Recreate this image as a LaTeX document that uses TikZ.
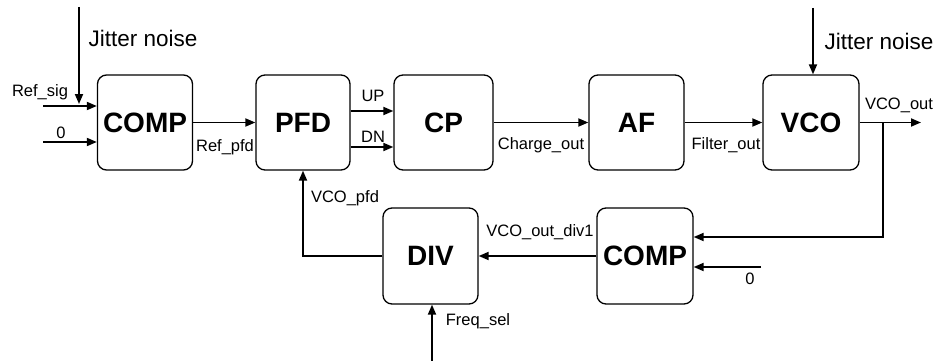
\documentclass[tikz,border=0pt]{standalone}
\usepackage{fontspec}
\setmainfont{Liberation Sans}
\usetikzlibrary{arrows.meta}
\begin{document}
\begin{tikzpicture}[x=1pt,y=-1pt,
  blk/.style={draw, line width=1.3pt, rounded corners=9pt, minimum width=95pt, minimum height=95pt, inner sep=0pt, font=\fontsize{28}{28}\selectfont\bfseries},
  arr/.style={line width=1.8pt, -{Triangle[length=10pt,width=8pt]}},
  lbl/.style={inner sep=0pt, font=\fontsize{16.5}{17}\selectfont},
  big/.style={inner sep=0pt, font=\fontsize{22.5}{23}\selectfont}]
\useasboundingbox (0,0) rectangle (937,361);
% blocks
\node[blk] (comp1) at (145,122.5) {COMP};
\node[blk, minimum width=94pt] (pfd) at (303,122.5) {PFD};
\node[blk, minimum width=99pt] (cp) at (443.5,122.5) {CP};
\node[blk] (af) at (636.5,122.5) {AF};
\node[blk, minimum width=96pt] (vco) at (811,122.5) {VCO};
\node[blk, minimum height=96pt] (div) at (430.5,256) {DIV};
\node[blk, minimum width=96pt, minimum height=96pt] (comp2) at (645,256) {COMP};
% coordinates
\coordinate (j1) at (79,7);
\coordinate (j1e) at (79,104);
\coordinate (rs) at (43,106);
\coordinate (z1) at (43,142);
\coordinate (upy) at (0,111);
\coordinate (dny) at (0,147);
\coordinate (j2) at (813,8);
\coordinate (br) at (883,122.5);
\coordinate (out) at (921,122.5);
\coordinate (fb) at (883,237);
\coordinate (z2) at (761,267);
\coordinate (fs) at (432,361);
% connectors
\draw[arr] (j1) -- (j1e);
\draw[arr] (rs) -- (rs -| comp1.west);
\draw[arr] (z1) -- (z1 -| comp1.west);
\draw[arr] (comp1.east) -- (pfd.west);
\draw[arr] (pfd.east |- upy) -- (cp.west |- upy);
\draw[arr] (pfd.east |- dny) -- (cp.west |- dny);
\draw[arr] (cp.east) -- (af.west);
\draw[arr] (af.east) -- (vco.west);
\draw[arr] (j2) -- (j2 |- vco.north);
\draw[arr] (vco.east) -- (out);
\draw[arr] (br) -- (fb) -- (fb -| comp2.east);
\draw[arr] (z2) -- (z2 -| comp2.east);
\draw[arr] (comp2.west) -- (div.east);
\draw[arr] (div.west) -| (pfd.south);
\draw[arr] (fs) -- (fs |- div.south);
% labels
\node[big] (t1) at (143,38) {Jitter noise};
\node[big] (t2) at (879,41) {Jitter noise};
\node[lbl] (l1) at (40,92) {Ref\_sig};
\node[lbl] (l2) at (61,133) {0};
\node[lbl] (l3) at (225,147) {Ref\_pfd};
\node[lbl] (l4) at (373,96) {UP};
\node[lbl] (l5) at (373,137) {DN};
\node[lbl] (l6) at (541,145) {Charge\_out};
\node[lbl] (l7) at (726,145) {Filter\_out};
\node[lbl] (l8) at (899,105) {VCO\_out};
\node[lbl] (l9) at (345,198) {VCO\_pfd};
\node[lbl] (l10) at (540,232) {VCO\_out\_div1};
\node[lbl] (l11) at (478,321) {Freq\_sel};
\node[lbl] (l12) at (750,279) {0};
\end{tikzpicture}
\end{document}
